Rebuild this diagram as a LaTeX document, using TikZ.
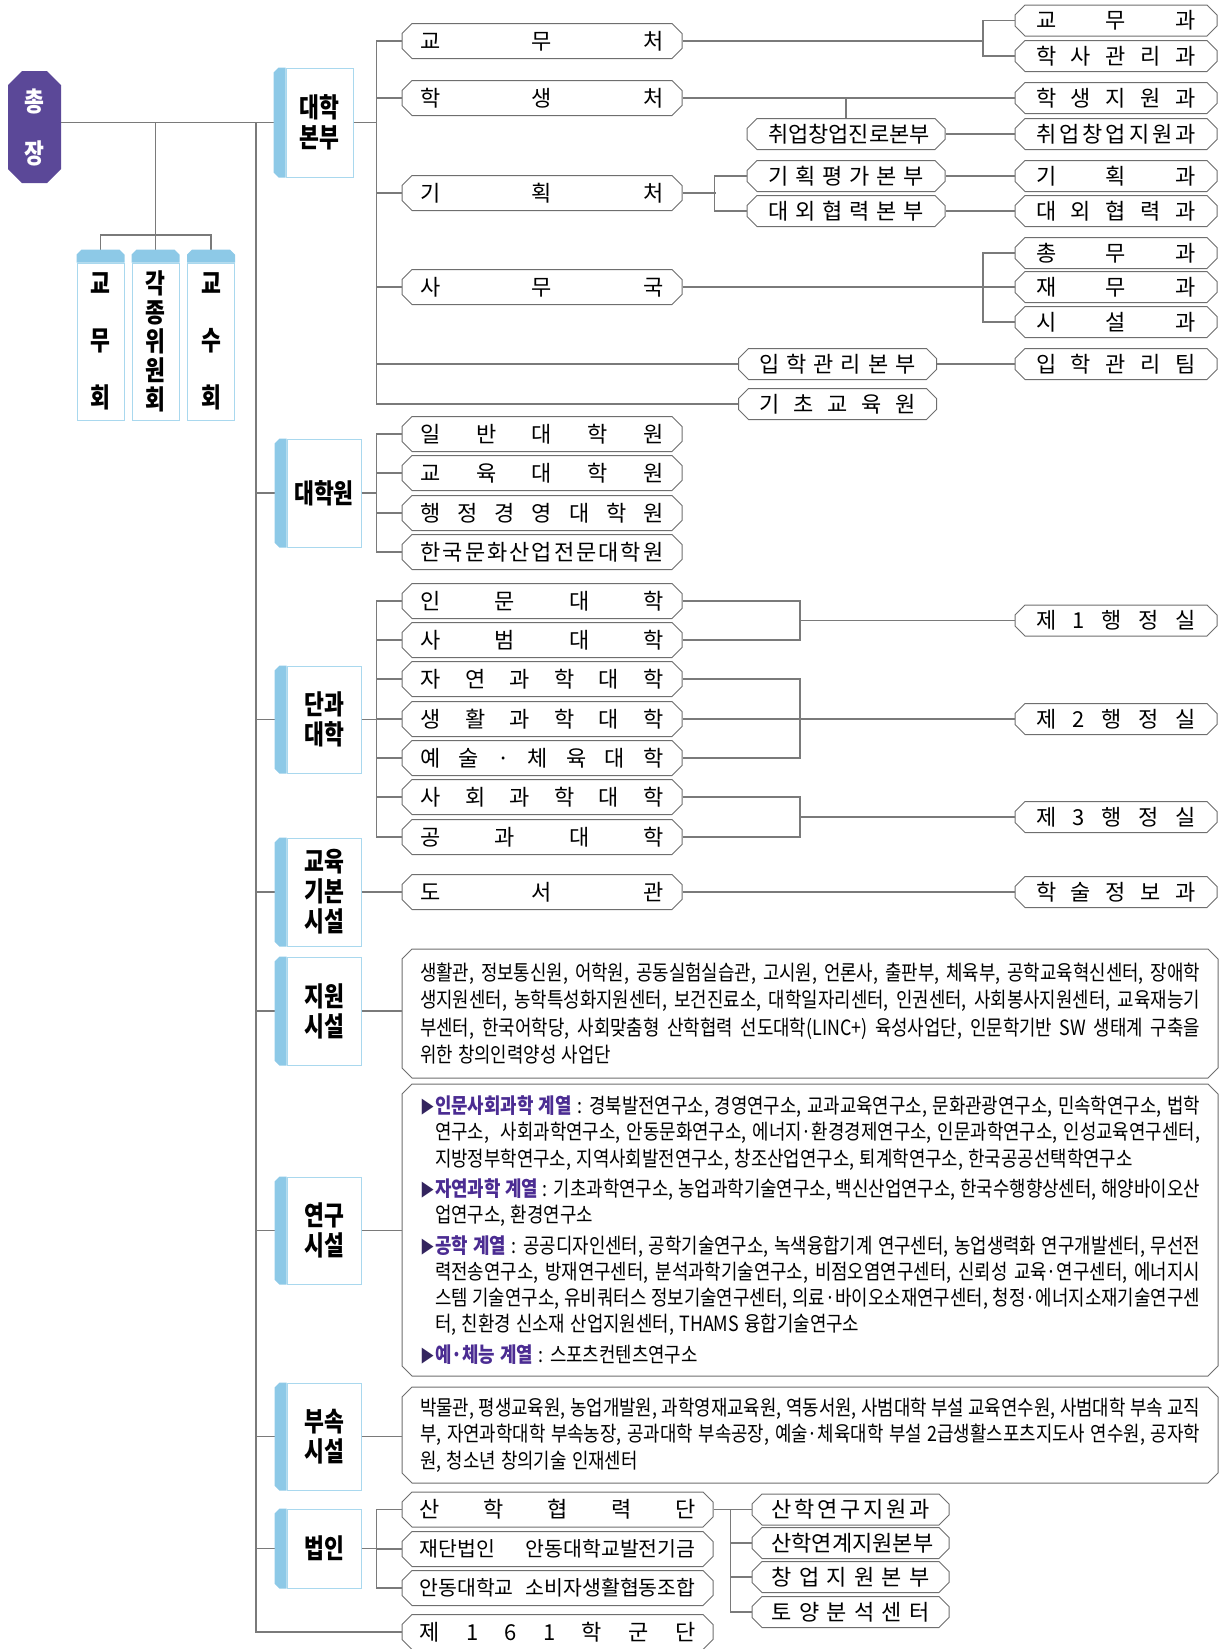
\documentclass[tikz,border=0pt]{standalone}
\usepackage{fontspec}
\setmainfont{Noto Sans CJK KR}
\newfontfamily\labelfont[FakeStretch=0.8]{Noto Sans CJK KR}
\newfontfamily\bodyfont[FakeStretch=0.85]{Noto Sans CJK KR}
\usetikzlibrary{shapes.misc}

\definecolor{bosspurple}{HTML}{5B4898}
\definecolor{headpurple}{HTML}{4B2C92}
\definecolor{bulletpurple}{HTML}{33245E}
\definecolor{catblue}{HTML}{8DC9E7}
\definecolor{catedge}{HTML}{A9D8EE}
\definecolor{linegray}{HTML}{7A7A7A}
\definecolor{boxgray}{HTML}{6E6E6E}

% 글자를 상자 폭 \spw 에 고르게 벌림
\def\sprfirst#1{#1\sprloop}
\def\sprloop#1{\ifx#1\relax\else\hfill#1\expandafter\sprloop\fi}
\newcommand{\spr}[1]{\makebox[\spw][s]{\sprfirst#1\relax}}
% 분류 상자 왼쪽 띠
\newcommand{\leftband}[1]{\fill[catblue] ([xshift=-12pt,yshift=-5pt]#1.north west) -- ([xshift=-7pt]#1.north west) -- (#1.north west) -- (#1.south west) -- ([xshift=-7pt]#1.south west) -- ([xshift=-12pt,yshift=5pt]#1.south west) -- cycle;}
% 회의체 상자 위쪽 띠
\newcommand{\topband}[1]{\fill[catblue] ([yshift=8pt]#1.north west) -- ([xshift=5pt,yshift=13pt]#1.north west) -- ([xshift=-5pt,yshift=13pt]#1.north east) -- ([yshift=8pt]#1.north east) -- (#1.north east) -- (#1.north west) -- cycle;}
% 연구시설 계열 머리
\newcommand{\series}[1]{\noindent\llap{\makebox[15pt][l]{\color{bulletpurple}\fontsize{17}{17}\selectfont ▶}}{\color{headpurple}\bfseries #1}}
% 설명 상자 글 간격
\newcommand{\notesetup}{\tolerance=10000 \spaceskip=.25em plus 1em minus .12em\relax}

\tikzset{
  wire/.style={draw=linegray, line width=1.1pt},
  unit/.style={chamfered rectangle, chamfered rectangle sep=5pt, draw=boxgray, line width=1pt, fill=white, inner sep=0pt, font=\fontsize{22}{26}\selectfont},
  wide/.style={unit, minimum width=280, minimum height=35, execute at begin node={\def\spw{243pt}}},
  side/.style={unit, minimum width=202, minimum height=31, execute at begin node={\def\spw{160pt}}},
  mid/.style={unit, minimum width=198, minimum height=31, execute at begin node={\def\spw{156pt}}},
  corpbox/.style={unit, minimum width=311, minimum height=35, execute at begin node={\def\spw{276pt}}},
  corpsub/.style={unit, minimum width=197, minimum height=31, execute at begin node={\def\spw{158pt}}},
  note/.style={unit, minimum width=816, text width=780, align=justify, font=\bodyfont\fontsize{21}{26.3}\selectfont},
  cat/.style={draw=catedge, line width=1pt, fill=white, minimum width=74, minimum height=108, inner sep=0pt, align=center, font=\labelfont\bfseries\fontsize{27}{30}\selectfont},
  council/.style={draw=catedge, line width=1pt, fill=white, minimum width=47, minimum height=157, inner sep=0pt, align=center, font=\labelfont\bfseries\fontsize{27}{57}\selectfont}
}

\begin{document}
\begin{tikzpicture}[x=1pt,y=-1pt]
\useasboundingbox (0,0) rectangle (1224,1649);

% 총장, 회의체
\node[chamfered rectangle, chamfered rectangle sep=7pt, fill=bosspurple, minimum width=53, minimum height=112, inner sep=0pt, text=white, align=center, font=\labelfont\bfseries\fontsize{27}{52}\selectfont] (boss) at (34.5,127) {총\\장};
\node[council] (c1) at (100.5,341.5) {교\\무\\회};
\node[council, font=\labelfont\bfseries\fontsize{27}{29}\selectfont] (c2) at (155.5,341.5) {각\\종\\위\\원\\회};
\node[council] (c3) at (211,341.5) {교\\수\\회};

% 분류
\node[cat, minimum width=67, minimum height=109] (hq) at (319.5,122.5) {대학\\본부};
\node[cat] (grad) at (324,493) {대학원};
\node[cat, minimum height=107] (coll) at (324,719.5) {단과\\대학};
\node[cat] (basic) at (324,892) {교육\\기본\\시설};
\node[cat] (supp) at (324,1011) {지원\\시설};
\node[cat, minimum height=107] (rsch) at (324,1230.5) {연구\\시설};
\node[cat, minimum height=107] (annex) at (324,1436.5) {부속\\시설};
\node[cat, minimum height=79] (corp) at (324,1548.5) {법인};

% 대학본부
\node[wide] (gyomu) at (542,41) {\spr{교무처}};
\node[wide] (haksaeng) at (542,98) {\spr{학생처}};
\node[wide] (gihoek) at (542,193) {\spr{기획처}};
\node[wide] (samu) at (542,287) {\spr{사무국}};
\node[mid] (job) at (846,134) {\spr{취업창업진로본부}};
\node[mid] (plan) at (846,176) {\spr{기획평가본부}};
\node[mid] (ext) at (846,211) {\spr{대외협력본부}};
\node[mid] (adm) at (837.5,364) {\spr{입학관리본부}};
\node[mid] (base) at (837.5,404) {\spr{기초교육원}};
\node[side] (s1) at (1116,20.5) {\spr{교무과}};
\node[side] (s2) at (1116,56) {\spr{학사관리과}};
\node[side] (s3) at (1116,98) {\spr{학생지원과}};
\node[side] (s4) at (1116,134) {\spr{취업창업지원과}};
\node[side] (s5) at (1116,176) {\spr{기획과}};
\node[side] (s6) at (1116,211) {\spr{대외협력과}};
\node[side] (s7) at (1116,253) {\spr{총무과}};
\node[side] (s8) at (1116,287) {\spr{재무과}};
\node[side] (s9) at (1116,322) {\spr{시설과}};
\node[side] (s10) at (1116,364) {\spr{입학관리팀}};

% 대학원, 단과대학
\node[wide] (gs1) at (542,434) {\spr{일반대학원}};
\node[wide] (gs2) at (542,473) {\spr{교육대학원}};
\node[wide] (gs3) at (542,513) {\spr{행정경영대학원}};
\node[wide] (gs4) at (542,552) {\spr{한국문화산업전문대학원}};
\node[wide] (col1) at (542,601) {\spr{인문대학}};
\node[wide] (col2) at (542,640) {\spr{사범대학}};
\node[wide] (col3) at (542,679) {\spr{자연과학대학}};
\node[wide] (col4) at (542,719) {\spr{생활과학대학}};
\node[wide] (col5) at (542,758) {\spr{예술·체육대학}};
\node[wide] (col6) at (542,797) {\spr{사회과학대학}};
\node[wide] (col7) at (542,837) {\spr{공과대학}};
\node[side] (adm1) at (1116,620.5) {\spr{제1행정실}};
\node[side] (adm2) at (1116,719) {\spr{제2행정실}};
\node[side] (adm3) at (1116,817) {\spr{제3행정실}};

% 교육기본시설
\node[wide] (lib) at (542,892) {\spr{도서관}};
\node[side] (s11) at (1116,892) {\spr{학술정보과}};

% 지원, 연구, 부속시설
\node[note, minimum height=129, font=\bodyfont\fontsize{21}{27.5}\selectfont] (sbox) at (810,1013.5) {\notesetup 생활관, 정보통신원, 어학원, 공동실험실습관, 고시원, 언론사, 출판부, 체육부, 공학교육혁신센터, 장애학\linebreak
생지원센터, 농학특성화지원센터, 보건진료소, 대학일자리센터, 인권센터, 사회봉사지원센터, 교육재능기\linebreak
부센터, 한국어학당, 사회맞춤형 산학협력 선도대학(LINC+) 육성사업단, 인문학기반 SW 생태계 구축을\linebreak
위한 창의인력양성 사업단\par};
\node[note, minimum height=292] (rbox) at (810,1230) {\setlength{\parskip}{4pt}\leftskip=15pt\notesetup
\series{인문사회과학 계열} : 경북발전연구소, 경영연구소, 교과교육연구소, 문화관광연구소, 민속학연구소, 법학\linebreak
연구소,\ \ 사회과학연구소, 안동문화연구소, 에너지·환경경제연구소, 인문과학연구소, 인성교육연구센터,\linebreak
지방정부학연구소, 지역사회발전연구소, 창조산업연구소, 퇴계학연구소, 한국공공선택학연구소\par
\series{자연과학 계열} : 기초과학연구소, 농업과학기술연구소, 백신산업연구소, 한국수행향상센터, 해양바이오산\linebreak
업연구소, 환경연구소\par
\series{공학 계열} : 공공디자인센터, 공학기술연구소, 녹색융합기계 연구센터, 농업생력화 연구개발센터, 무선전\linebreak
력전송연구소, 방재연구센터, 분석과학기술연구소, 비점오염연구센터, 신뢰성 교육·연구센터, 에너지시\linebreak
스템 기술연구소, 유비쿼터스 정보기술연구센터, 의료·바이오소재연구센터, 청정·에너지소재기술연구센\linebreak
터, 친환경 신소재 산업지원센터, THAMS 융합기술연구소\par
\series{예·체능 계열} : 스포츠컨텐츠연구소\par};
\node[note, minimum height=96] (abox) at (810,1435) {\notesetup 박물관, 평생교육원, 농업개발원, 과학영재교육원, 역동서원, 사범대학 부설 교육연수원, 사범대학 부속 교직\linebreak
부, 자연과학대학 부속농장, 공과대학 부속공장, 예술·체육대학 부설 2급생활스포츠지도사 연수원, 공자학\linebreak
원, 청소년 창의기술 인재센터\par};

% 법인
\node[corpbox] (k1) at (557.5,1509.5) {\spr{산학협력단}};
\node[corpbox, font=\fontsize{20.5}{24}\selectfont] (k2) at (557.5,1549) {\makebox[\spw][s]{재단법인\hfill 안동대학교발전기금}};
\node[corpbox, font=\fontsize{20.5}{24}\selectfont] (k3) at (557.5,1588) {\makebox[\spw][s]{안동대학교\hfill 소비자생활협동조합}};
\node[corpbox] (rotc) at (557.5,1632) {\spr{제161학군단}};
\node[corpsub] (t1) at (850.5,1509.5) {\spr{산학연구지원과}};
\node[corpsub] (t2) at (850.5,1543) {\spr{산학연계지원본부}};
\node[corpsub] (t3) at (850.5,1577) {\spr{창업지원본부}};
\node[corpsub] (t4) at (850.5,1612) {\spr{토양분석센터}};

% 연결선
\coordinate (trunk) at (256,0);
\coordinate (bar) at (377,0);
\coordinate (sbar) at (983,0);
\coordinate (rbar) at (800,0);
\coordinate (cbar) at (155.5,235);
\draw[wire] (hq -| boss.east) -- ([xshift=-12pt]hq.west);
\draw[wire] (hq -| trunk) |- (rotc.west);
\foreach \n in {grad,coll,basic,supp,rsch,annex,corp}
  {\draw[wire] (\n -| trunk) -- ([xshift=-12pt]\n.west);}
\draw[wire] (c2 |- hq) -- (cbar) -- ([yshift=13pt]c2.north);
\draw[wire] ([yshift=13pt]c1.north) |- (cbar) -| ([yshift=13pt]c3.north);

\draw[wire] (hq.east) -- (hq -| bar);
\draw[wire] (gyomu.west) -- ++(-25,0) |- (base.west);
\foreach \n in {haksaeng,gihoek,samu}
  {\draw[wire] (\n.west) -- ++(-25,0);}
\draw[wire] (adm -| bar) -- (adm.west);
\draw[wire] (gyomu.east) -- (gyomu -| sbar);
\draw[wire] (s1.west) -| (sbar |- s2) -- (s2.west);
\draw[wire] (haksaeng.east) -- (s3.west);
\draw[wire] (haksaeng -| job.north) -- (job.north);
\draw[wire] (job.east) -- (s4.west);
\draw[wire] (gihoek.east) -- ++(33,0);
\draw[wire] (plan.west) -- ++(-32,0) |- (ext.west);
\draw[wire] (plan.east) -- (s5.west);
\draw[wire] (ext.east) -- (s6.west);
\draw[wire] (samu.east) -- (s8.west);
\draw[wire] (s7.west) -| (sbar |- s9) -- (s9.west);
\draw[wire] (adm.east) -- (s10.west);

\draw[wire] (grad.east) -- (grad -| bar);
\draw[wire] (gs1.west) -- ++(-25,0) |- (gs4.west);
\foreach \n in {gs2,gs3}
  {\draw[wire] (\n.west) -- ++(-25,0);}
\draw[wire] (coll.east) -- (coll -| bar);
\draw[wire] (col1.west) -- ++(-25,0) |- (col7.west);
\foreach \n in {col2,col3,col4,col5,col6}
  {\draw[wire] (\n.west) -- ++(-25,0);}
\draw[wire] (col1.east) -| (rbar |- col2) -- (col2.east);
\draw[wire] (col3.east) -| (rbar |- col5) -- (col5.east);
\draw[wire] (col6.east) -| (rbar |- col7) -- (col7.east);
\draw[wire] (adm1 -| rbar) -- (adm1.west);
\draw[wire] (col4.east) -- (adm2.west);
\draw[wire] (adm3 -| rbar) -- (adm3.west);

\draw[wire] (basic.east) -- (lib.west);
\draw[wire] (lib.east) -- (s11.west);
\draw[wire] (supp.east) -- (supp -| sbox.west);
\draw[wire] (rsch.east) -- (rsch -| rbox.west);
\draw[wire] (annex.east) -- (annex -| abox.west);

\draw[wire] (corp.east) -- (corp -| bar);
\draw[wire] (k1.west) -- ++(-25,0) |- (k3.west);
\draw[wire] (k2.west) -- ++(-25,0);
\draw[wire] (k1.east) -- (t1.west);
\draw[wire] (t1.west) -- ++(-21,0) |- (t4.west);
\foreach \n in {t2,t3}
  {\draw[wire] (\n.west) -- ++(-21,0);}

% 띠
\foreach \n in {hq,grad,coll,basic,supp,rsch,annex,corp}
  {\leftband{\n}}
\foreach \n in {c1,c2,c3}
  {\topband{\n}}
\end{tikzpicture}
\end{document}
